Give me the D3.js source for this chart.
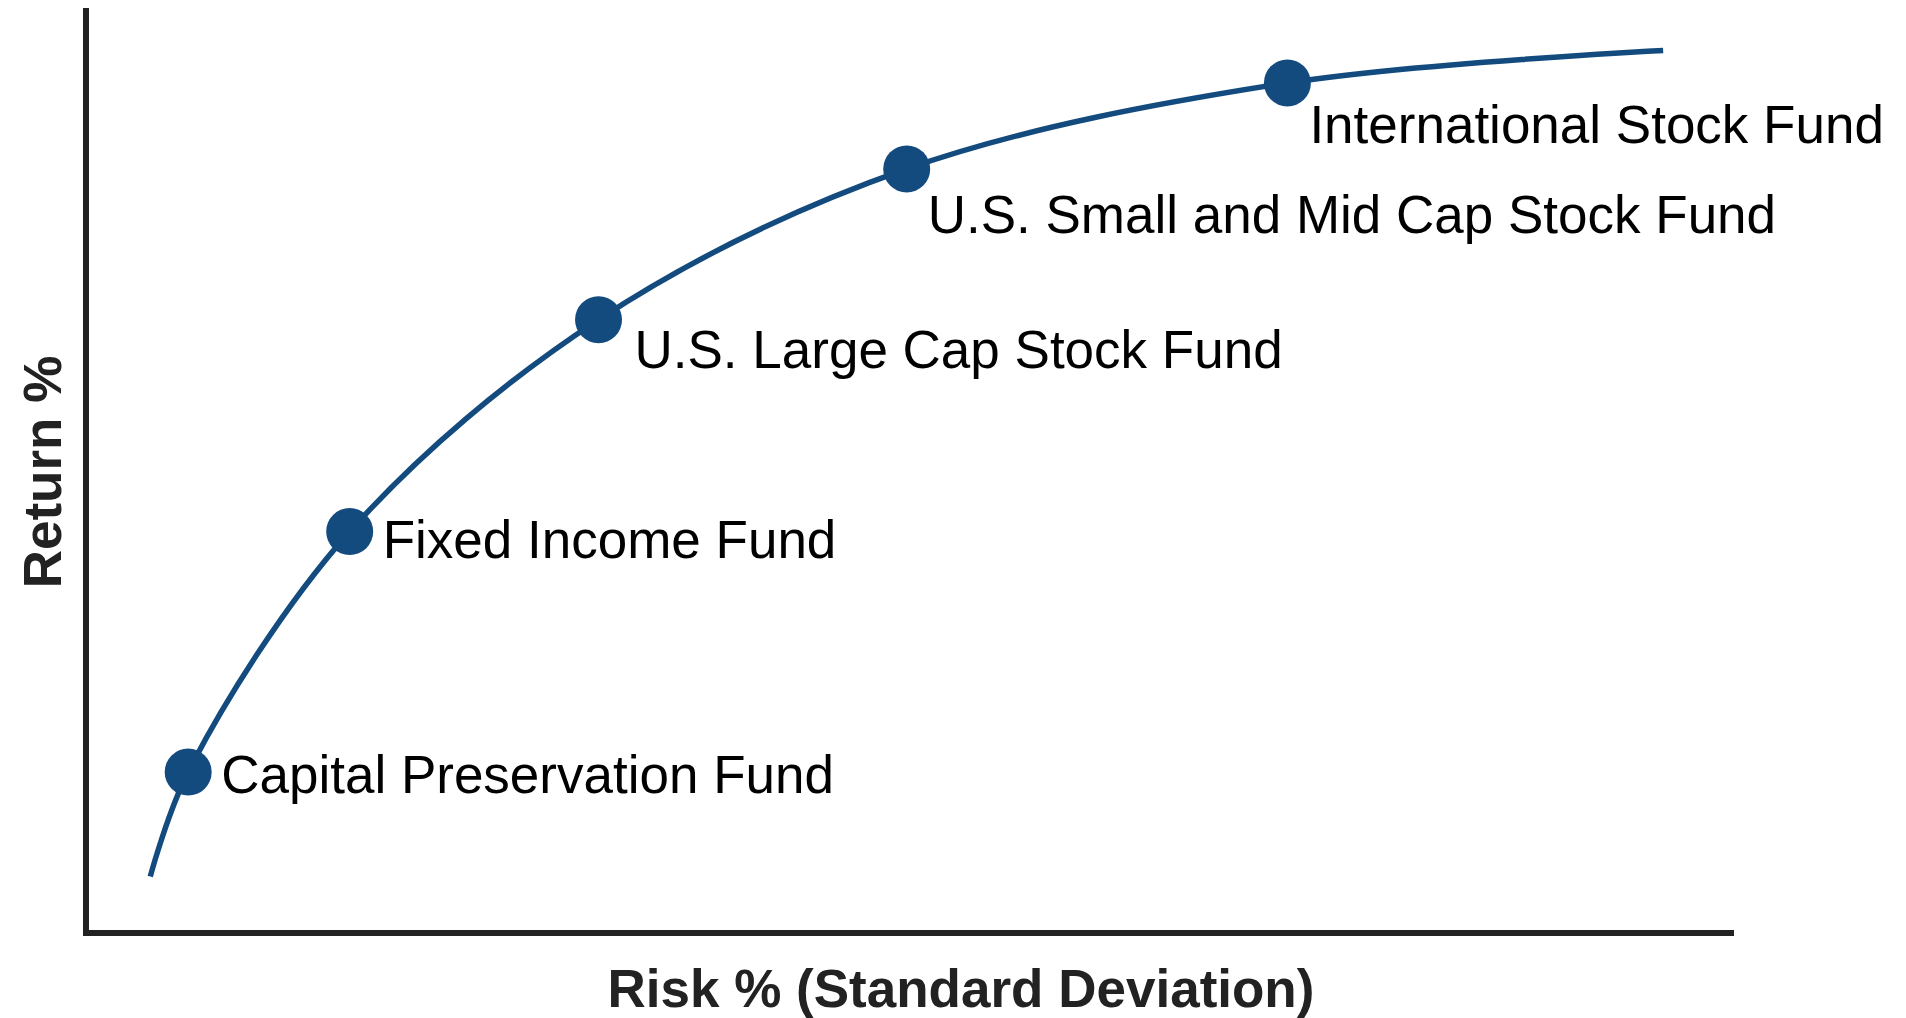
<!DOCTYPE html>
<html>
<head>
<meta charset="utf-8">
<script src="https://cdn.jsdelivr.net/npm/d3@7"></script>
<style>
  html, body { margin: 0; padding: 0; background: #ffffff; }
  svg { display: block; }
</style>
</head>
<body>
<svg id="chart" width="1906" height="1018"></svg>
<script>
// ---- Data (relative units 0-100) ----
const funds = [
  "Capital Preservation Fund",
  "Fixed Income Fund",
  "U.S. Large Cap Stock Fund",
  "U.S. Small and Mid Cap Stock Fund",
  "International Stock Fund"
];
const fundRisk   = [6.2, 16.0, 31.1, 49.8, 72.9];
const fundReturn = [17.4, 43.4, 66.3, 82.6, 91.9];

// efficient-frontier curve (read points along the drawn line)
const curveRisk   = [3.9, 6.2, 16.0, 31.1, 49.8, 72.9, 95.7];
const curveReturn = [6.1, 17.4, 43.4, 66.3, 82.6, 91.9, 95.4];

const xTitle = "Risk % (Standard Deviation)";
const yTitle = "Return %";

// ---- Layout ----
const svg = d3.select("#chart");
const plot = { left: 86, right: 1734, top: 8, bottom: 933 };
const labelLayout = [
  { dx: 33, dy: 21 },
  { dx: 33, dy: 26 },
  { dx: 36, dy: 48 },
  { dx: 21, dy: 64 },
  { dx: 22, dy: 60 }
];
const blue = "#134b7f";
const font = "'Liberation Sans', Arial, Helvetica, sans-serif";

const x = d3.scaleLinear().domain([0, 100]).range([plot.left, plot.right]);
const y = d3.scaleLinear().domain([0, 100]).range([plot.bottom, plot.top]);

// axes (no ticks)
const xAxis = d3.axisBottom(x).tickValues([]).tickSizeOuter(0);
const yAxis = d3.axisLeft(y).tickValues([]).tickSizeOuter(0);

svg.append("g")
  .attr("transform", `translate(0,${plot.bottom})`)
  .call(xAxis)
  .call(g => g.select(".domain")
    .attr("stroke", "#222")
    .attr("stroke-width", 6)
    .attr("d", `M${plot.left - 3},0H${plot.right}`));

svg.append("g")
  .attr("transform", `translate(${plot.left},0)`)
  .call(yAxis)
  .call(g => g.select(".domain")
    .attr("stroke", "#222")
    .attr("stroke-width", 6)
    .attr("d", `M0,${plot.top}V${plot.bottom + 3}`));

// curve
const curveData = curveRisk.map((r, i) => ({ r, v: curveReturn[i] }));
const line = d3.line()
  .x(d => x(d.r))
  .y(d => y(d.v))
  .curve(d3.curveCatmullRom.alpha(0.5));

svg.append("path")
  .datum(curveData)
  .attr("fill", "none")
  .attr("stroke", blue)
  .attr("stroke-width", 5.5)
  .attr("stroke-linecap", "butt")
  .attr("d", line);

// points
const pts = funds.map((name, i) => ({ name, r: fundRisk[i], v: fundReturn[i], lay: labelLayout[i] }));

svg.append("g").selectAll("circle")
  .data(pts)
  .join("circle")
  .attr("cx", d => x(d.r))
  .attr("cy", d => y(d.v))
  .attr("r", 23.5)
  .attr("fill", blue);

svg.append("g").selectAll("text")
  .data(pts)
  .join("text")
  .attr("x", d => x(d.r) + d.lay.dx)
  .attr("y", d => y(d.v) + d.lay.dy)
  .attr("font-family", font)
  .attr("font-size", 53)
  .attr("fill", "#000")
  .text(d => d.name);

// axis titles
svg.append("text")
  .attr("x", 961)
  .attr("y", 1007)
  .attr("text-anchor", "middle")
  .attr("font-family", font)
  .attr("font-weight", "bold")
  .attr("font-size", 53)
  .attr("fill", "#222")
  .text(xTitle);

svg.append("text")
  .attr("transform", "translate(61,472) rotate(-90)")
  .attr("text-anchor", "middle")
  .attr("font-family", font)
  .attr("font-weight", "bold")
  .attr("font-size", 53)
  .attr("fill", "#222")
  .text(yTitle);
</script>
</body>
</html>
